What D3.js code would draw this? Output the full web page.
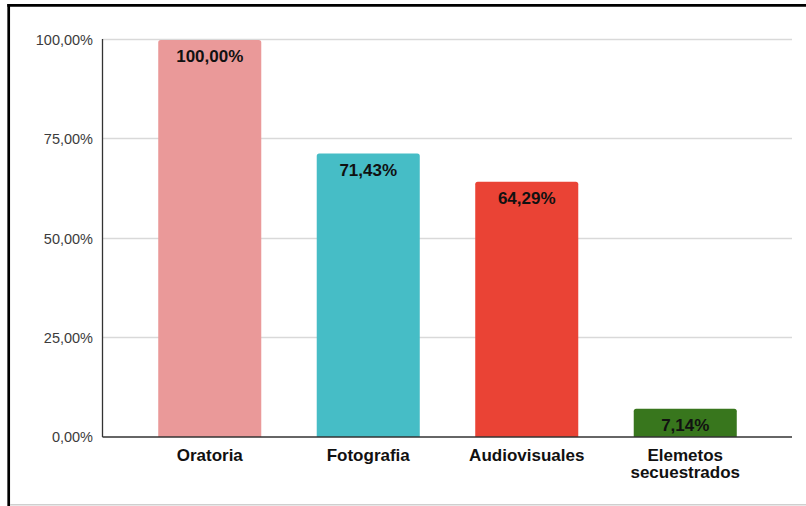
<!DOCTYPE html>
<html>
<head>
<meta charset="utf-8">
<script src="https://cdn.jsdelivr.net/npm/d3@7"></script>
<style>
  html, body { margin: 0; padding: 0; background: #fff; }
  svg { display: block; }
</style>
</head>
<body>
<svg id="chart" width="806" height="506"></svg>
<script>
const categories = ["Oratoria", "Fotografia", "Audiovisuales", "Elemetos secuestrados"];
const categoryLines = [["Oratoria"], ["Fotografia"], ["Audiovisuales"], ["Elemetos", "secuestrados"]];
const values = [1.0, 0.7143, 0.6429, 0.0714];
const valueLabels = ["100,00%", "71,43%", "64,29%", "7,14%"];
const barColors = ["#ea9999", "#46bdc6", "#ea4335", "#38761d"];
const yTicks = [0, 0.25, 0.5, 0.75, 1.0];
const yTickLabels = ["0,00%", "25,00%", "50,00%", "75,00%", "100,00%"];

const svg = d3.select("#chart");
const font = "'Liberation Sans', Arial, Helvetica, sans-serif";

// frame
svg.append("line").attr("x1", 8.7).attr("x2", 8.7).attr("y1", 4).attr("y2", 506)
  .attr("stroke", "#000").attr("stroke-width", 2.7);
svg.append("line").attr("x1", 7.3).attr("x2", 806).attr("y1", 5.3).attr("y2", 5.3)
  .attr("stroke", "#000").attr("stroke-width", 2.7);
svg.append("line").attr("x1", 10).attr("x2", 806).attr("y1", 504.8).attr("y2", 504.8)
  .attr("stroke", "#cfcfcf").attr("stroke-width", 1.5);

const plotLeft = 102.5, plotRight = 792, plotTop = 40, plotBottom = 437;

const x = d3.scaleBand().domain(categories).range([130.5, 764.5])
  .paddingInner(0.35).paddingOuter(0.175);
const y = d3.scaleLinear().domain([0, 1]).range([plotBottom, plotTop]);

// gridlines
svg.append("g").selectAll("line").data(yTicks.filter(d => d > 0)).join("line")
  .attr("x1", plotLeft).attr("x2", plotRight)
  .attr("y1", d => Math.round(y(d)) - 0.5).attr("y2", d => Math.round(y(d)) - 0.5)
  .attr("stroke", "#d9d9d9").attr("stroke-width", 1.3);

// y tick labels
svg.append("g").selectAll("text").data(yTicks).join("text")
  .attr("x", 93).attr("y", d => y(d)).attr("dy", "0.36em")
  .attr("text-anchor", "end")
  .attr("font-family", font).attr("font-size", "14.5px").attr("fill", "#3c3c3c")
  .text((d, i) => yTickLabels[i]);

// bars with rounded top corners
function barPath(x0, w, yTop, yBot, r) {
  r = Math.min(r, (yBot - yTop) / 2);
  return `M${x0},${yBot}V${yTop + r}Q${x0},${yTop} ${x0 + r},${yTop}H${x0 + w - r}Q${x0 + w},${yTop} ${x0 + w},${yTop + r}V${yBot}Z`;
}
svg.append("g").selectAll("path").data(categories).join("path")
  .attr("d", (c, i) => barPath(x(c), x.bandwidth(), y(values[i]), y(0), 2.5))
  .attr("fill", (c, i) => barColors[i]);

// value labels
svg.append("g").selectAll("text").data(categories).join("text")
  .attr("x", c => x(c) + x.bandwidth() / 2)
  .attr("y", (c, i) => y(values[i]) + 16).attr("dy", "0.36em")
  .attr("text-anchor", "middle")
  .attr("font-family", font).attr("font-weight", "bold").attr("font-size", "17px")
  .attr("fill", "#111")
  .text((c, i) => valueLabels[i]);

// axes lines
svg.append("line").attr("x1", plotLeft).attr("x2", plotLeft).attr("y1", plotTop - 1).attr("y2", plotBottom)
  .attr("stroke", "#333").attr("stroke-width", 1.3);
svg.append("line").attr("x1", plotLeft).attr("x2", plotRight).attr("y1", plotBottom).attr("y2", plotBottom)
  .attr("stroke", "#333").attr("stroke-width", 1.3);

// category labels
const catG = svg.append("g").selectAll("text").data(categories).join("text")
  .attr("text-anchor", "middle")
  .attr("font-family", font).attr("font-weight", "bold").attr("font-size", "17px")
  .attr("fill", "#111");
catG.each(function(c, i) {
  const t = d3.select(this);
  categoryLines[i].forEach((line, j) => {
    t.append("tspan").attr("x", x(c) + x.bandwidth() / 2)
      .attr("y", 455 + j * 16.8).attr("dy", "0.36em").text(line);
  });
});
</script>
</body>
</html>
